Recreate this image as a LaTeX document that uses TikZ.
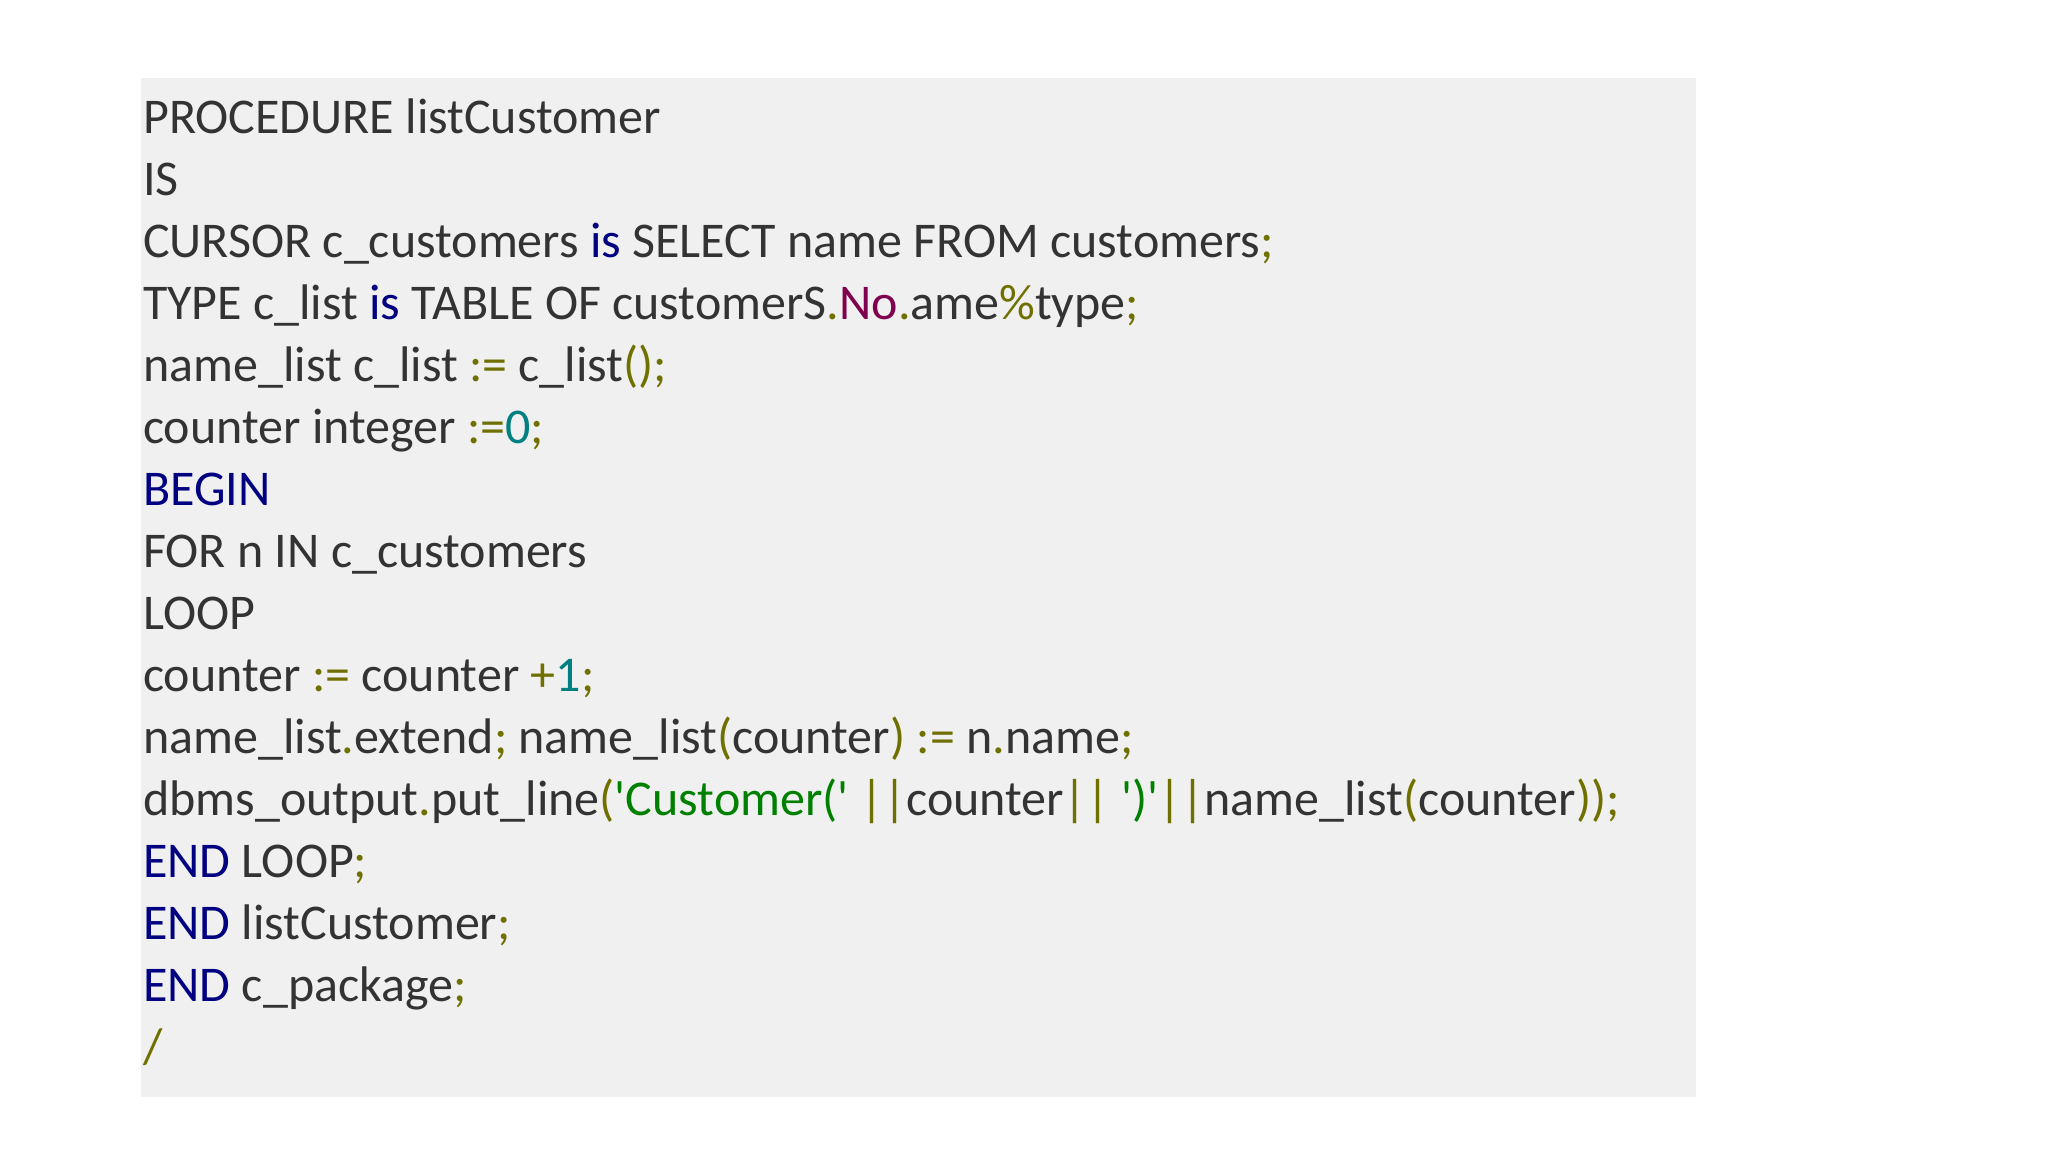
\documentclass[tikz,border=0pt]{standalone}
\usepackage{fontspec}
\setmainfont{Carlito}[Ligatures=TeXOff]
\definecolor{olv}{RGB}{112,112,0}
\definecolor{kwc}{RGB}{0,0,128}
\definecolor{grc}{RGB}{0,128,0}
\definecolor{nmc}{RGB}{0,128,128}
\definecolor{puc}{RGB}{128,0,80}
\definecolor{txc}{RGB}{51,51,51}
\definecolor{bgc}{RGB}{240,240,240}
\newcommand\cO[1]{\textcolor{olv}{#1}}
\newcommand\cK[1]{\textcolor{kwc}{#1}}
\newcommand\cG[1]{\textcolor{grc}{#1}}
\newcommand\cN[1]{\textcolor{nmc}{#1}}
\newcommand\cP[1]{\textcolor{puc}{#1}}
\begin{document}
\begin{tikzpicture}[x=1pt,y=-1pt,
  ln/.style={anchor=base west,inner sep=0pt,text=txc,font=\fontsize{50}{60}\selectfont}]
\useasboundingbox (0,0) rectangle (2048,1152);
\fill[white] (0,0) rectangle (2048,1152);
\fill[bgc] (141,78) rectangle (1696,1097);
\foreach \t [count=\i] in {
 {PROCEDURE listCustomer},
 {IS},
 {CURSOR c\_customers \cK{is} SELECT name FROM customers\cO{;}},
 {TYPE c\_list \cK{is} TABLE OF customerS\cO{.}\cP{No}\cO{.}ame\cO{\%}type\cO{;}},
 {name\_list c\_list \cO{:=} c\_list\cO{();}},
 {counter integer \cO{:=}\cN{0}\cO{;}},
 {\cK{BEGIN}},
 {FOR n IN c\_customers},
 {LOOP},
 {counter \cO{:=} counter \cO{+}\cN{1}\cO{;}},
 {name\_list\cO{.}extend\cO{;} name\_list\cO{(}counter\cO{)} \cO{:=} n\cO{.}name\cO{;}},
 {dbms\_output\cO{.}put\_line\cO{(}\cG{'Customer('} \cO{||}counter\cO{||} \cG{')'}\cO{||}name\_list\cO{(}counter\cO{));}},
 {\cK{END} LOOP\cO{;}},
 {\cK{END} listCustomer\cO{;}},
 {\cK{END} c\_package\cO{;}},
 {\cO{/}}}
 \node[ln] (l\i) at (143,{116+17+(\i-1)*62}) {\t};
\end{tikzpicture}
\end{document}
